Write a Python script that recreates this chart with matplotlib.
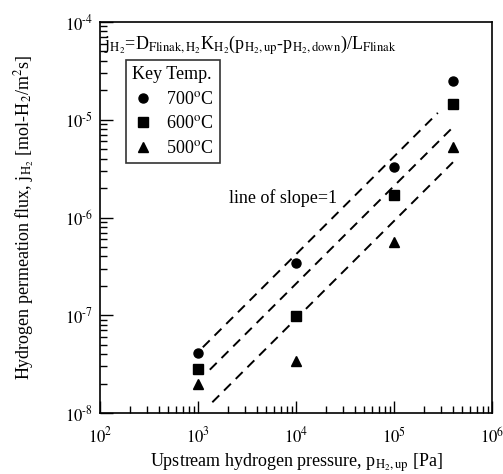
import numpy as np
import matplotlib
matplotlib.use("Agg")
import matplotlib.pyplot as plt
from matplotlib.ticker import FuncFormatter

plt.rcParams['font.family'] = ['Liberation Serif', 'DejaVu Serif']
plt.rcParams['mathtext.fontset'] = 'stix'

# measured data (upstream pressure in Pa, flux in mol-H2/m2s)
pressure = [1e3, 1e4, 1e5, 4e5]
flux_700 = [4.1e-8, 3.4e-7, 3.3e-6, 2.5e-5]
flux_600 = [2.8e-8, 9.8e-8, 1.7e-6, 1.45e-5]
flux_500 = [2.0e-8, 3.4e-8, 5.6e-7, 5.3e-6]

# slope=1 guide lines: coefficient and x-range
guide_coef = [4.2e-11, 2.1e-11, 9.2e-12]
guide_start = [1.12e3, 1.32e3, 1.4e3]
guide_end = [2.8e5, 3.9e5, 4.0e5]

fig = plt.figure(figsize=(5.03, 4.74), dpi=100)
ax = fig.add_axes([100/503, 1 - 413/474, 392/503, 391/474])

ax.plot(pressure, flux_700, 'o', color='black', ms=6.5, label=r'700$^{\rm o}$C')
ax.plot(pressure, flux_600, 's', color='black', ms=6.5, label=r'600$^{\rm o}$C')
ax.plot(pressure, flux_500, '^', color='black', ms=6.5, label=r'500$^{\rm o}$C')

for c, x0, x1 in zip(guide_coef, guide_start, guide_end):
    xs = np.array([x0, x1])
    ax.plot(xs, c * xs, color='black', lw=1.4, dashes=(5, 3.5))

ax.set_xscale('log')
ax.set_yscale('log')
ax.set_xlim(1e2, 1e6)
ax.set_ylim(1e-8, 1e-4)


def pow_label(v, pos):
    e = int(round(np.log10(v)))
    if e < 0:
        return r'$10^{\text{-}%d}$' % (-e)
    return r'$10^{%d}$' % e


ax.xaxis.set_major_formatter(FuncFormatter(pow_label))
ax.yaxis.set_major_formatter(FuncFormatter(pow_label))

ax.tick_params(which='both', direction='in', top=False, right=False, labelsize=12)
ax.tick_params(which='major', length=9, width=1)
ax.tick_params(which='minor', length=5, width=1)
ax.tick_params(axis='x', which='major', pad=10)
ax.tick_params(axis='y', which='major', pad=5)
for s in ax.spines.values():
    s.set_linewidth(1.2)

ax.set_xlabel(r'Upstream hydrogen pressure, p$_{\rm H_2,up}$ [Pa]', fontsize=13)
ax.xaxis.set_label_coords(0.5, -0.097)
ax.set_ylabel(r'Hydrogen permeation flux, j$_{\rm H_2}$ [mol-H$_2$/m$^2$s]', fontsize=13, labelpad=20)

ax.text(0.01, 0.94,
        r'j$_{\rm H_2}$=D$_{\rm Flinak,H_2}$K$_{\rm H_2}$(p$_{\rm H_2,up}$-p$_{\rm H_2,down}$)/L$_{\rm Flinak}$',
        transform=ax.transAxes, fontsize=13, va='center', ha='left')
ax.text(0.33, 0.55, 'line of slope=1', transform=ax.transAxes, fontsize=13, va='center')

leg = ax.legend(title='Key Temp.', loc='upper left', bbox_to_anchor=(0.066, 0.903),
                borderaxespad=0, fontsize=13, title_fontsize=13, frameon=True, fancybox=False,
                handletextpad=0.7, handlelength=1.2, borderpad=0.35, labelspacing=0.42)
leg.get_frame().set_edgecolor('black')
leg.get_frame().set_linewidth(1.2)
leg._legend_box.align = 'left'

fig.savefig('out.png', dpi=100)
